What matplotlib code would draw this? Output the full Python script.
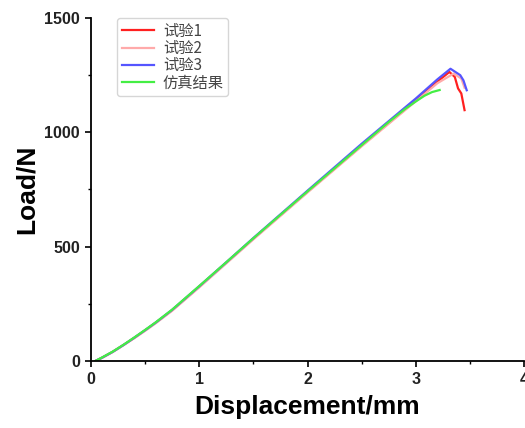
import matplotlib.pyplot as plt
from matplotlib.ticker import MultipleLocator

plt.rcParams['font.family'] = ['Liberation Sans', 'DejaVu Sans']

# test 1
x1 = [0.04, 0.1, 0.2, 0.3, 0.4, 0.5, 0.6, 0.75, 1.0, 1.25, 1.5, 2.0, 2.5, 3.0, 3.2, 3.31, 3.36, 3.39, 3.42, 3.45]
y1 = [0, 14, 40, 70, 101, 134, 168, 222, 325, 430, 535, 740, 942, 1140, 1222, 1264, 1242, 1192, 1170, 1097]
# test 2
x2 = [0.04, 0.1, 0.2, 0.3, 0.4, 0.5, 0.6, 0.75, 1.0, 1.25, 1.5, 2.0, 2.5, 3.0, 3.2, 3.35, 3.42, 3.45]
y2 = [0, 13, 39, 69, 100, 132, 166, 220, 322, 427, 532, 737, 939, 1136, 1215, 1257, 1235, 1195]
# test 3
x3 = [0.04, 0.1, 0.2, 0.3, 0.4, 0.5, 0.6, 0.75, 1.0, 1.25, 1.5, 2.0, 2.5, 3.0, 3.2, 3.32, 3.41, 3.44, 3.47]
y3 = [0, 14, 40, 70, 102, 135, 169, 224, 327, 432, 538, 745, 950, 1148, 1232, 1278, 1250, 1227, 1184]
# simulation
x4 = [0.04, 0.1, 0.2, 0.3, 0.4, 0.5, 0.6, 0.75, 1.0, 1.25, 1.5, 2.0, 2.5, 2.75, 2.9, 3.0, 3.08, 3.15, 3.22]
y4 = [0, 15, 41, 71, 103, 136, 170, 225, 328, 432, 537, 742, 944, 1045, 1102, 1135, 1160, 1176, 1185]

labels = ['试验1', '试验2', '试验3', '仿真结果']
colors = ['#ff2020', '#ffaaaa', '#5555ff', '#44ee44']

fig = plt.figure(figsize=(5.25, 4.28), dpi=100)
ax = fig.add_axes([0.1733, 0.1565, 0.825, 0.8015])

for xs, ys, lab, c in zip([x1, x2, x3, x4], [y1, y2, y3, y4], labels, colors):
    ax.plot(xs, ys, color=c, lw=1.6, label=lab)

ax.set_xlim(0, 4)
ax.set_ylim(0, 1500)
ax.xaxis.set_major_locator(MultipleLocator(1))
ax.xaxis.set_minor_locator(MultipleLocator(0.5))
ax.yaxis.set_major_locator(MultipleLocator(500))
ax.yaxis.set_minor_locator(MultipleLocator(250))
ax.tick_params(which='major', length=4, width=1.2, direction='out', labelsize=11.5, pad=4)
ax.tick_params(which='minor', length=2.5, width=1.0, direction='out')
for lbl in ax.get_xticklabels() + ax.get_yticklabels():
    lbl.set_fontweight('bold')
    lbl.set_color('#222222')

ax.spines['top'].set_visible(False)
ax.spines['right'].set_visible(False)
ax.spines['left'].set_linewidth(1.3)
ax.spines['bottom'].set_linewidth(1.3)

ax.set_xlabel('Displacement/mm', fontsize=19, fontweight='bold', labelpad=6)
ax.set_ylabel('Load/N', fontsize=19, fontweight='bold', labelpad=4)

leg = ax.legend(loc='upper left', bbox_to_anchor=(0.06, 1.0), borderaxespad=0,
                frameon=True,
                prop={'family': ['Noto Sans CJK SC', 'DejaVu Sans'], 'size': 11},
                handlelength=2.1, labelspacing=0.02, borderpad=0.3,
                handletextpad=0.6, edgecolor='#cccccc', fancybox=True)
for t in leg.get_texts():
    t.set_color('#444444')

fig.savefig('out.png', dpi=100)
